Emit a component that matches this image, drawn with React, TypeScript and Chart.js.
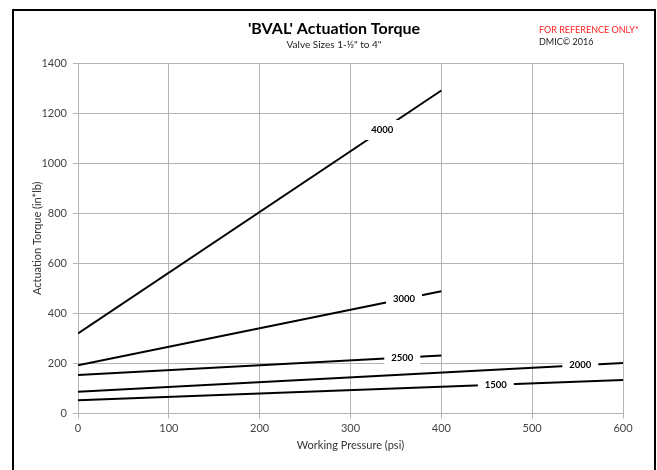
import React, { useEffect, useRef } from "react";
import { Chart, registerables } from "chart.js";

Chart.register(...registerables);

// Working pressure (psi) end points of each curve
const seriesNames = ["4000", "3000", "2500", "2000", "1500"];
const series4000 = [
  { x: 0, y: 320 },
  { x: 400, y: 1290 },
];
const series3000 = [
  { x: 0, y: 193 },
  { x: 400, y: 488 },
];
const series2500 = [
  { x: 0, y: 154 },
  { x: 400, y: 232 },
];
const series2000 = [
  { x: 0, y: 87 },
  { x: 600, y: 202 },
];
const series1500 = [
  { x: 0, y: 53 },
  { x: 600, y: 134 },
];
// pressure at which each curve's label sits
const labelPressures = [335, 359, 357, 553, 460];

const titleText = "'BVAL' Actuation Torque";
const subtitleText = 'Valve Sizes 1-½" to 4"';
const noteText = "FOR REFERENCE ONLY*";
const copyrightText = "DMIC© 2016";
const xTitle = "Working Pressure (psi)";
const yTitle = "Actuation Torque (in*lb)";

const FONT = "Lato, 'Open Sans', sans-serif";

const framePlugin = {
  id: "frame",
  beforeDraw(chart: any) {
    const ctx = chart.ctx;
    ctx.save();
    ctx.fillStyle = "#ffffff";
    ctx.fillRect(0, 0, chart.width, chart.height);
    ctx.strokeStyle = "#000000";
    ctx.lineWidth = 2;
    ctx.strokeRect(13, 10, 642, 470);
    ctx.restore();
  },
  afterDraw(chart: any) {
    const ctx = chart.ctx;
    ctx.save();
    ctx.textBaseline = "middle";
    ctx.textAlign = "center";
    ctx.fillStyle = "#000000";
    ctx.font = `bold 16px ${FONT}`;
    ctx.fillText(titleText, 334, 29);
    ctx.fillStyle = "#222222";
    ctx.font = `10px ${FONT}`;
    ctx.fillText(subtitleText, 334, 45);
    ctx.textAlign = "left";
    ctx.fillStyle = "#ff2020";
    ctx.font = `9px ${FONT}`;
    ctx.fillText(noteText, 539, 30);
    ctx.fillStyle = "#222222";
    ctx.fillText(copyrightText, 539, 42);
    ctx.restore();
  },
};

const lineLabelPlugin = {
  id: "lineLabels",
  afterDatasetsDraw(chart: any) {
    const ctx = chart.ctx;
    const xs = chart.scales.x;
    const ys = chart.scales.y;
    ctx.save();
    chart.data.datasets.forEach((ds: any, i: number) => {
      const p = labelPressures[i];
      const pts = ds.data;
      let v = pts[0].y;
      for (let k = 0; k < pts.length - 1; k++) {
        if (p >= pts[k].x && p <= pts[k + 1].x) {
          const t = (p - pts[k].x) / (pts[k + 1].x - pts[k].x);
          v = pts[k].y + t * (pts[k + 1].y - pts[k].y);
        }
      }
      const px = xs.getPixelForValue(p);
      const py = ys.getPixelForValue(v);
      ctx.fillStyle = "#ffffff";
      ctx.fillRect(px - 18, py - 10, 36, 20);
      ctx.fillStyle = "#000000";
      ctx.font = `bold 9.5px ${FONT}`;
      ctx.textAlign = "center";
      ctx.textBaseline = "middle";
      ctx.fillText(ds.label, px, py);
    });
    ctx.restore();
  },
};

export default function App() {
  const ref = useRef<HTMLCanvasElement | null>(null);

  useEffect(() => {
    if (!ref.current) return;
    const allSeries = [series4000, series3000, series2500, series2000, series1500];
    const chart = new Chart(ref.current, {
      type: "line",
      data: {
        datasets: allSeries.map((d, i) => ({
          label: seriesNames[i],
          data: d,
          borderColor: "#000000",
          borderWidth: 2,
          pointRadius: 0,
          fill: false,
          tension: 0,
        })),
      },
      options: {
        responsive: false,
        animation: false,
        events: [],
        layout: { padding: { left: 31, top: 63, right: 34, bottom: 18 } },
        plugins: {
          legend: { display: false },
          tooltip: { enabled: false },
          title: { display: false },
        },
        scales: {
          x: {
            type: "linear",
            min: 0,
            max: 600,
            ticks: {
              stepSize: 100,
              padding: 3,
              color: "#444444",
              font: { family: FONT, size: 11 },
              callback: (v: any) => String(v),
            },
            grid: {
              color: "#b4b4b4",
              lineWidth: 1,
              tickLength: 5,
              drawTicks: true,
            },
            border: { color: "#b4b4b4" },
            title: {
              display: true,
              text: xTitle,
              color: "#333333",
              padding: 0,
              font: { family: FONT, size: 11 },
            },
            afterFit(scale: any) {
              scale.height = 38.5;
            },
          },
          y: {
            type: "linear",
            min: 0,
            max: 1400,
            ticks: {
              stepSize: 200,
              padding: 6,
              color: "#444444",
              font: { family: FONT, size: 11 },
              callback: (v: any) => String(v),
            },
            grid: {
              color: "#b4b4b4",
              lineWidth: 1,
              tickLength: 5,
              drawTicks: true,
            },
            border: { color: "#b4b4b4" },
            title: {
              display: true,
              text: yTitle,
              color: "#333333",
              padding: 0,
              font: { family: FONT, size: 11 },
            },
            afterFit(scale: any) {
              scale.width = 47;
            },
          },
        },
      } as any,
      plugins: [framePlugin, lineLabelPlugin],
    });
    return () => chart.destroy();
  }, []);

  return (
    <div style={{ position: "absolute", left: 0, top: 0, width: 657, height: 470 }}>
      <canvas ref={ref} width={657} height={470} style={{ display: "block", width: 657, height: 470 }} />
    </div>
  );
}
